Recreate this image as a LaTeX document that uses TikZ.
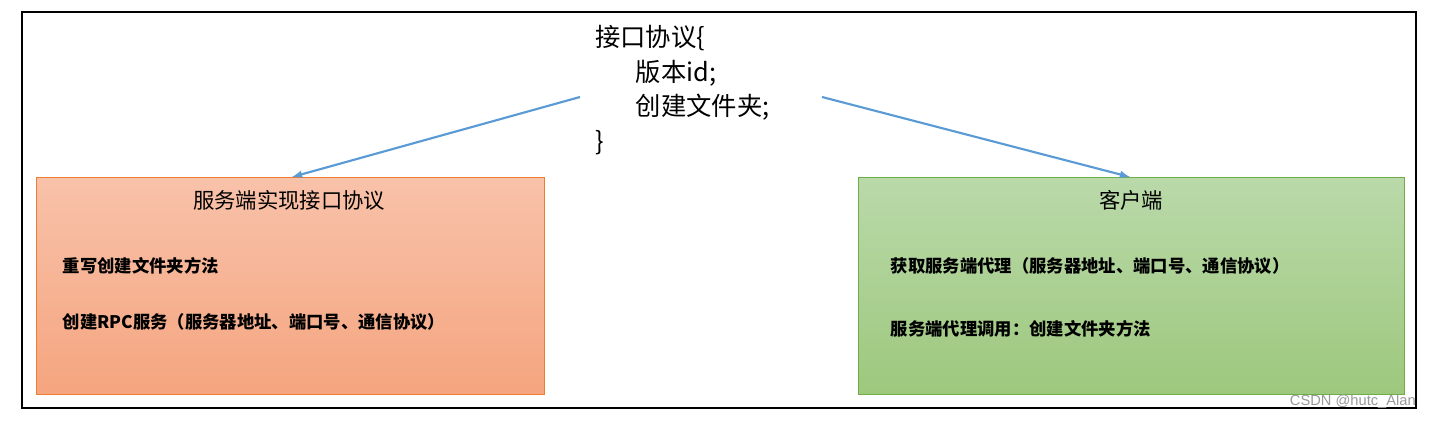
\documentclass[tikz,border=0pt]{standalone}
\usepackage{fontspec}
\setmainfont{Liberation Sans}
\newfontfamily\cjk{Noto Sans CJK SC}
\newfontfamily\cjkb{Noto Sans CJK SC Bold}
\begin{document}
\begin{tikzpicture}[x=0.75pt,y=-0.75pt,
  arr/.style={draw=blue!45!cyan!70!black!90,color={rgb,255:red,91;green,155;blue,213},line width=1.6pt,-latex},
  bold/.style={anchor=west,font=\cjk\bfseries\fontsize{13}{15}\selectfont}]
\useasboundingbox (0,0) rectangle (1430,421);
\draw[line width=1pt] (22,12) rectangle (1416,408);
\shade[top color={rgb,255:red,248;green,194;blue,170},bottom color={rgb,255:red,245;green,165;blue,127}] (36,177) rectangle (544,394);
\draw[color={rgb,255:red,237;green,125;blue,49}] (36,177) rectangle (544,394);
\shade[top color={rgb,255:red,186;green,217;blue,170},bottom color={rgb,255:red,157;green,200;blue,125}] (858,177) rectangle (1404,394);
\draw[color={rgb,255:red,112;green,173;blue,71}] (858,177) rectangle (1404,394);
\node[anchor=north west,align=left,font=\cjk\fontsize{19}{26}\selectfont,inner sep=0] (proto) at (595,25)
 {接口协议\{\\\hspace{1.6em}版本id;\\\hspace{1.6em}创建文件夹;\\\}};
\coordinate (ls) at (580,97); \coordinate (le) at (292,177);
\coordinate (rs) at (822,97); \coordinate (re) at (1130,177);
\draw[line width=1.6pt,color={rgb,255:red,91;green,155;blue,213},-latex] (ls) -- (le);
\draw[line width=1.6pt,color={rgb,255:red,91;green,155;blue,213},-latex] (rs) -- (re);
\node[font=\cjk\fontsize{16}{18}\selectfont] (lt) at (289,200) {服务端实现接口协议};
\node[font=\cjk\fontsize{16}{18}\selectfont] (rt) at (1131,200) {客户端};
\node[bold] (l1) at (58,266) {\cjkb 重写创建文件夹方法};
\node[bold] (l2) at (58,322) {\cjkb 创建RPC服务（服务器地址、端口号、通信协议）};
\node[bold] (r1) at (886,266) {\cjkb 获取服务端代理（服务器地址、端口号、通信协议）};
\node[bold] (r2) at (886,329) {\cjkb 服务端代理调用：创建文件夹方法};
\node[anchor=east,font=\fontsize{11}{12}\selectfont,color=gray!80,inner sep=0] (wm) at (1416,402) {CSDN @hutc\_Alan};
\end{tikzpicture}
\end{document}
